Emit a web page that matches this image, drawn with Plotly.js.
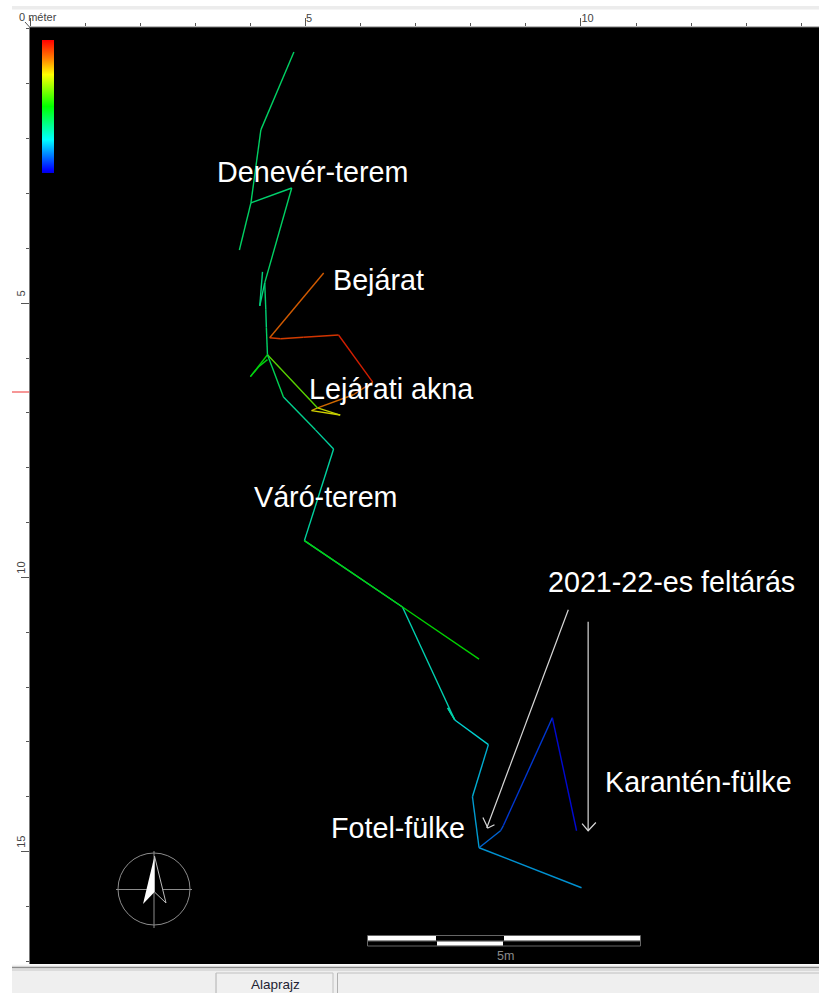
<!DOCTYPE html>
<html><head><meta charset="utf-8">
<script src="https://cdn.plot.ly/plotly-3.0.1.min.js"></script>
<style>html,body{margin:0;padding:0;background:#fff}#c{width:819px;height:993px}</style>
</head><body><div id="c"></div>
<script>
// Survey legs in metres (x east, y south from the corner), z = relative elevation 0..1 on the colour ramp
const northX = [4.79, 4.19, 4.01, 4.75, 4.26, 4.28, 4.29, 4.31];
const northY = [0.42, 1.84, 3.17, 2.90, 4.63, 5.12, 5.45, 5.94];
const northZ = [0.38, 0.38, 0.37, 0.38, 0.37, 0.36, 0.38];
const denevX = [4.01, 3.80];
const denevY = [3.17, 4.03];
const denevZ = [0.38];
const spikeX = [4.22, 4.17, 4.26];
const spikeY = [4.43, 5.05, 4.63];
const spikeZ = [0.35, 0.35];
const entranceX = [5.33, 4.35, 4.55, 4.96, 5.60, 6.22, 5.87, 5.22];
const entranceY = [4.45, 5.63, 5.65, 5.62, 5.58, 6.44, 6.67, 6.91];
const entranceZ = [0.88, 0.92, 0.92, 0.93, 0.96, 0.88, 0.86];
const shaftX = [5.22, 5.11, 5.63, 5.22];
const shaftY = [6.91, 6.96, 7.04, 6.91];
const shaftZ = [0.80, 0.74, 0.72];
const linkX = [4.31, 5.22];
const linkY = [5.94, 6.91];
const linkZ = [0.60];
const sideX = [4.31, 4.00, 4.15, 4.31];
const sideY = [5.94, 6.34, 6.16, 6.03];
const sideZ = [0.50, 0.48, 0.48];
const mainX = [4.31, 4.60, 5.18, 5.51, 4.98, 6.76, 7.71, 7.58, 7.71, 8.32, 8.03, 8.15];
const mainY = [5.94, 6.71, 7.31, 7.66, 9.33, 10.54, 12.60, 12.38, 12.60, 13.05, 14.00, 14.93];
const mainZ = [0.40, 0.33, 0.31, 0.31, 0.40, 0.29, 0.30, 0.30, 0.25, 0.21, 0.19];
const greenX = [4.98, 6.76, 8.15];
const greenY = [9.33, 10.54, 11.49];
const greenZ = [0.47, 0.50];
const karantenX = [8.15, 8.54, 8.59, 9.48, 9.92];
const karantenY = [14.93, 14.62, 14.53, 12.56, 14.62];
const karantenZ = [0.13, 0.10, 0.08, 0.03];
const foteltailX = [8.15, 10.01];
const foteltailY = [14.93, 15.66];
const foteltailZ = [0.18];

const legs = [
  [northX,northY,northZ],[denevX,denevY,denevZ],[spikeX,spikeY,spikeZ],[entranceX,entranceY,entranceZ],
  [shaftX,shaftY,shaftZ],[linkX,linkY,linkZ],[sideX,sideY,sideZ],[mainX,mainY,mainZ],
  [greenX,greenY,greenZ],[karantenX,karantenY,karantenZ],[foteltailX,foteltailY,foteltailZ]
];

// White pointers, metres
const arrow1X = [9.77, 8.29];
const arrow1Y = [10.59, 14.57];
const arrow1HeadX = [8.22, 8.31, 8.43];
const arrow1HeadY = [14.38, 14.57, 14.51];
const arrow2X = [10.13, 10.13];
const arrow2Y = [10.81, 14.62];
const arrow2HeadX = [10.02, 10.13, 10.27];
const arrow2HeadY = [14.49, 14.62, 14.47];

// Passage labels
const labelText = ["Denevér-terem","Bejárat","Lejárati akna","Váró-terem","2021-22-es feltárás","Karantén-fülke","Fotel-fülke"];
const labelX = [5.13, 6.33, 6.55, 5.37, 11.65, 12.13, 6.68];
const labelY = [2.61, 4.57, 6.56, 8.53, 10.08, 13.73, 14.57];

// Colour ramp
const rampStops = [[0,'#0000e0'],[0.02,'#0000ff'],[0.25,'#00ffff'],[0.5,'#00ff00'],[0.74,'#ffff00'],[0.86,'#ff8000'],[1,'#ff0000']];
const rampSample = [0,0.25,0.5,0.74,0.86,1];
const lineBrightness = 0.82;

function hex(c){return [1,3,5].map(i=>parseInt(c.substr(i,2),16));}
function ramp(z){
  for(let i=1;i<rampStops.length;i++){
    if(z<=rampStops[i][0]){
      const a=rampStops[i-1],b=rampStops[i],t=(z-a[0])/(b[0]-a[0]);
      const A=hex(a[1]),B=hex(b[1]);
      return 'rgb('+A.map((v,k)=>Math.round((v+(B[k]-v)*t)*lineBrightness)).join(',')+')';
    }
  }
  return rampStops[rampStops.length-1][1];
}

const traces=[];
legs.forEach(([xs,ys,zs])=>{
  zs.forEach((z,i)=>{
    traces.push({type:'scatter',mode:'lines',x:[xs[i],xs[i+1]],y:[ys[i],ys[i+1]],
      line:{color:ramp(z),width:1.4},hoverinfo:'skip',showlegend:false});
  });
});
[[arrow1X,arrow1Y],[arrow1HeadX,arrow1HeadY],[arrow2X,arrow2Y],[arrow2HeadX,arrow2HeadY]].forEach(([x,y])=>{
  traces.push({type:'scatter',mode:'lines',x,y,line:{color:'#d8d8d8',width:1.2},hoverinfo:'skip',showlegend:false});
});
// colour ramp legend
traces.push({type:'scatter',mode:'markers',x:[0.5,0.5,0.5,0.5,0.5,0.5],y:[1,1,1,1,1,1],
  marker:{size:0.1,opacity:0,color:rampSample,cmin:0,cmax:1,colorscale:rampStops,showscale:true,
    colorbar:{x:12/789,xanchor:'left',xpad:0,y:(964-40)/937,yanchor:'top',ypad:0,thickness:12,thicknessmode:'pixels',
      len:133,lenmode:'pixels',outlinewidth:0,borderwidth:0,showticklabels:false,ticks:''}},
  hoverinfo:'skip',showlegend:false});

const px=x=>(x-30)/789, py=y=>(964-y)/937;
const rectP=(x0,y0,x1,y1,fill,line)=>({type:'rect',xref:'paper',yref:'paper',x0:px(x0),x1:px(x1),y0:py(y0),y1:py(y1),
  fillcolor:fill,line:line?{color:line,width:1}:{width:0}});
const lineP=(x0,y0,x1,y1,c,w)=>({type:'line',xref:'paper',yref:'paper',x0:px(x0),x1:px(x1),y0:py(y0),y1:py(y1),line:{color:c,width:w||1}});
const pathP=(pts,fill,line)=>({type:'path',xref:'paper',yref:'paper',
  path:'M'+pts.map(p=>px(p[0])+','+py(p[1])).join(' L')+' Z',fillcolor:fill,line:line?{color:line,width:1}:{width:0}});

const shapes=[
  // window chrome
  rectP(12,6,819,9.5,'#ececec'),
  rectP(12,965,819,993,'#efefef'),
  lineP(12,965,819,965,'#f8f8f8',1),
  lineP(12,967.5,819,967.5,'#8c8c8c',1.5),
  lineP(12,970,819,970,'#c8c8c8',1),
  lineP(216,973,216,993,'#b0b0b0',1),
  rectP(217,973,333,993,'#f0f0f0'),
  lineP(216,973,333,973,'#c0c0c0',1),
  lineP(333,973,333,993,'#c0c0c0',1),
  lineP(337.5,973,337.5,993,'#b0b0b0',1),
  lineP(337.5,973,819,973,'#c0c0c0',1),
  // corner tick and cursor mark
  lineP(25,22,29.5,27,'#555',1),
  lineP(12,392,29,392,'#f05050',1.2),
  // frame
  lineP(29.5,27,819,27,'#777',1),
  lineP(29.5,27,29.5,964,'#777',1),
  // scale bar
  rectP(367.5,935.5,640.5,946,'rgba(0,0,0,0)','#666'),
  lineP(367.5,941,640.5,941,'#666',1),
  rectP(368,936,436,940.5,'#fff'),
  rectP(504,936,640,940.5,'#fff'),
  rectP(437,941.5,503,945.5,'#fff'),
  // compass
  {type:'circle',xref:'paper',yref:'paper',x0:px(118),x1:px(190),y0:py(853),y1:py(925),line:{color:'#8c8c8c',width:1}},
  lineP(116,889.5,192,889.5,'#8c8c8c',1),
  lineP(154,851,154,928,'#8c8c8c',1),
  pathP([[154.5,856],[143,904],[154.5,892]],'#ffffff'),
  pathP([[154.5,856],[166,903],[154.5,892]],'rgba(0,0,0,1)','#bbbbbb')
];

const annotations=labelText.map((t,i)=>({text:t,x:labelX[i],y:labelY[i],xref:'x',yref:'y',showarrow:false,
  font:{family:'"Liberation Sans",Arial,sans-serif',size:28.7,color:'#ffffff'},xanchor:'center',yanchor:'middle'}));
const smallFont={family:'"Liberation Sans",Arial,sans-serif',size:11,color:'#444'};
annotations.push(
  {text:'0 méter',xref:'paper',yref:'paper',x:px(37.5),y:py(16.5),showarrow:false,font:smallFont,xanchor:'center',yanchor:'middle'},
  {text:'5m',xref:'paper',yref:'paper',x:px(505),y:py(956),showarrow:false,font:{family:'"Liberation Sans",Arial,sans-serif',size:12.5,color:'#8a8a8a'},xanchor:'center',yanchor:'middle'},
  {text:'Alaprajz',xref:'paper',yref:'paper',x:px(275),y:py(984),showarrow:false,font:{family:'"Liberation Sans",Arial,sans-serif',size:13.5,color:'#223'},xanchor:'center',yanchor:'middle'}
);

const layout={
  width:819,height:993,autosize:false,showlegend:false,
  margin:{l:30,r:0,t:27,b:29,pad:0,autoexpand:false},
  paper_bgcolor:'#ffffff',plot_bgcolor:'#000000',
  xaxis:{side:'top',range:[0.0,14.32],fixedrange:true,showgrid:false,zeroline:false,showline:false,
    tickmode:'array',tickvals:[0,5,10],ticktext:['','5','10'],ticks:'outside',ticklen:8,tickwidth:1,tickcolor:'#555',
    ticklabelposition:'outside right',ticklabelshift:2.5,tickfont:smallFont,
    minor:{dtick:1,tick0:0,ticks:'outside',ticklen:3,tickwidth:1,tickcolor:'#555',showgrid:false}},
  yaxis:{range:[17.05,-0.036],fixedrange:true,showgrid:false,zeroline:false,showline:false,
    tickmode:'array',tickvals:[5,10,15],ticktext:['5','10','15'],ticks:'outside',ticklen:8,tickwidth:1,tickcolor:'#555',
    tickangle:-90,ticklabelposition:'outside top',tickfont:smallFont,
    minor:{dtick:1,tick0:0,ticks:'outside',ticklen:3,tickwidth:1,tickcolor:'#555',showgrid:false}},
  shapes,annotations
};
Plotly.newPlot('c',traces,layout,{displayModeBar:false,staticPlot:true});
</script></body></html>
